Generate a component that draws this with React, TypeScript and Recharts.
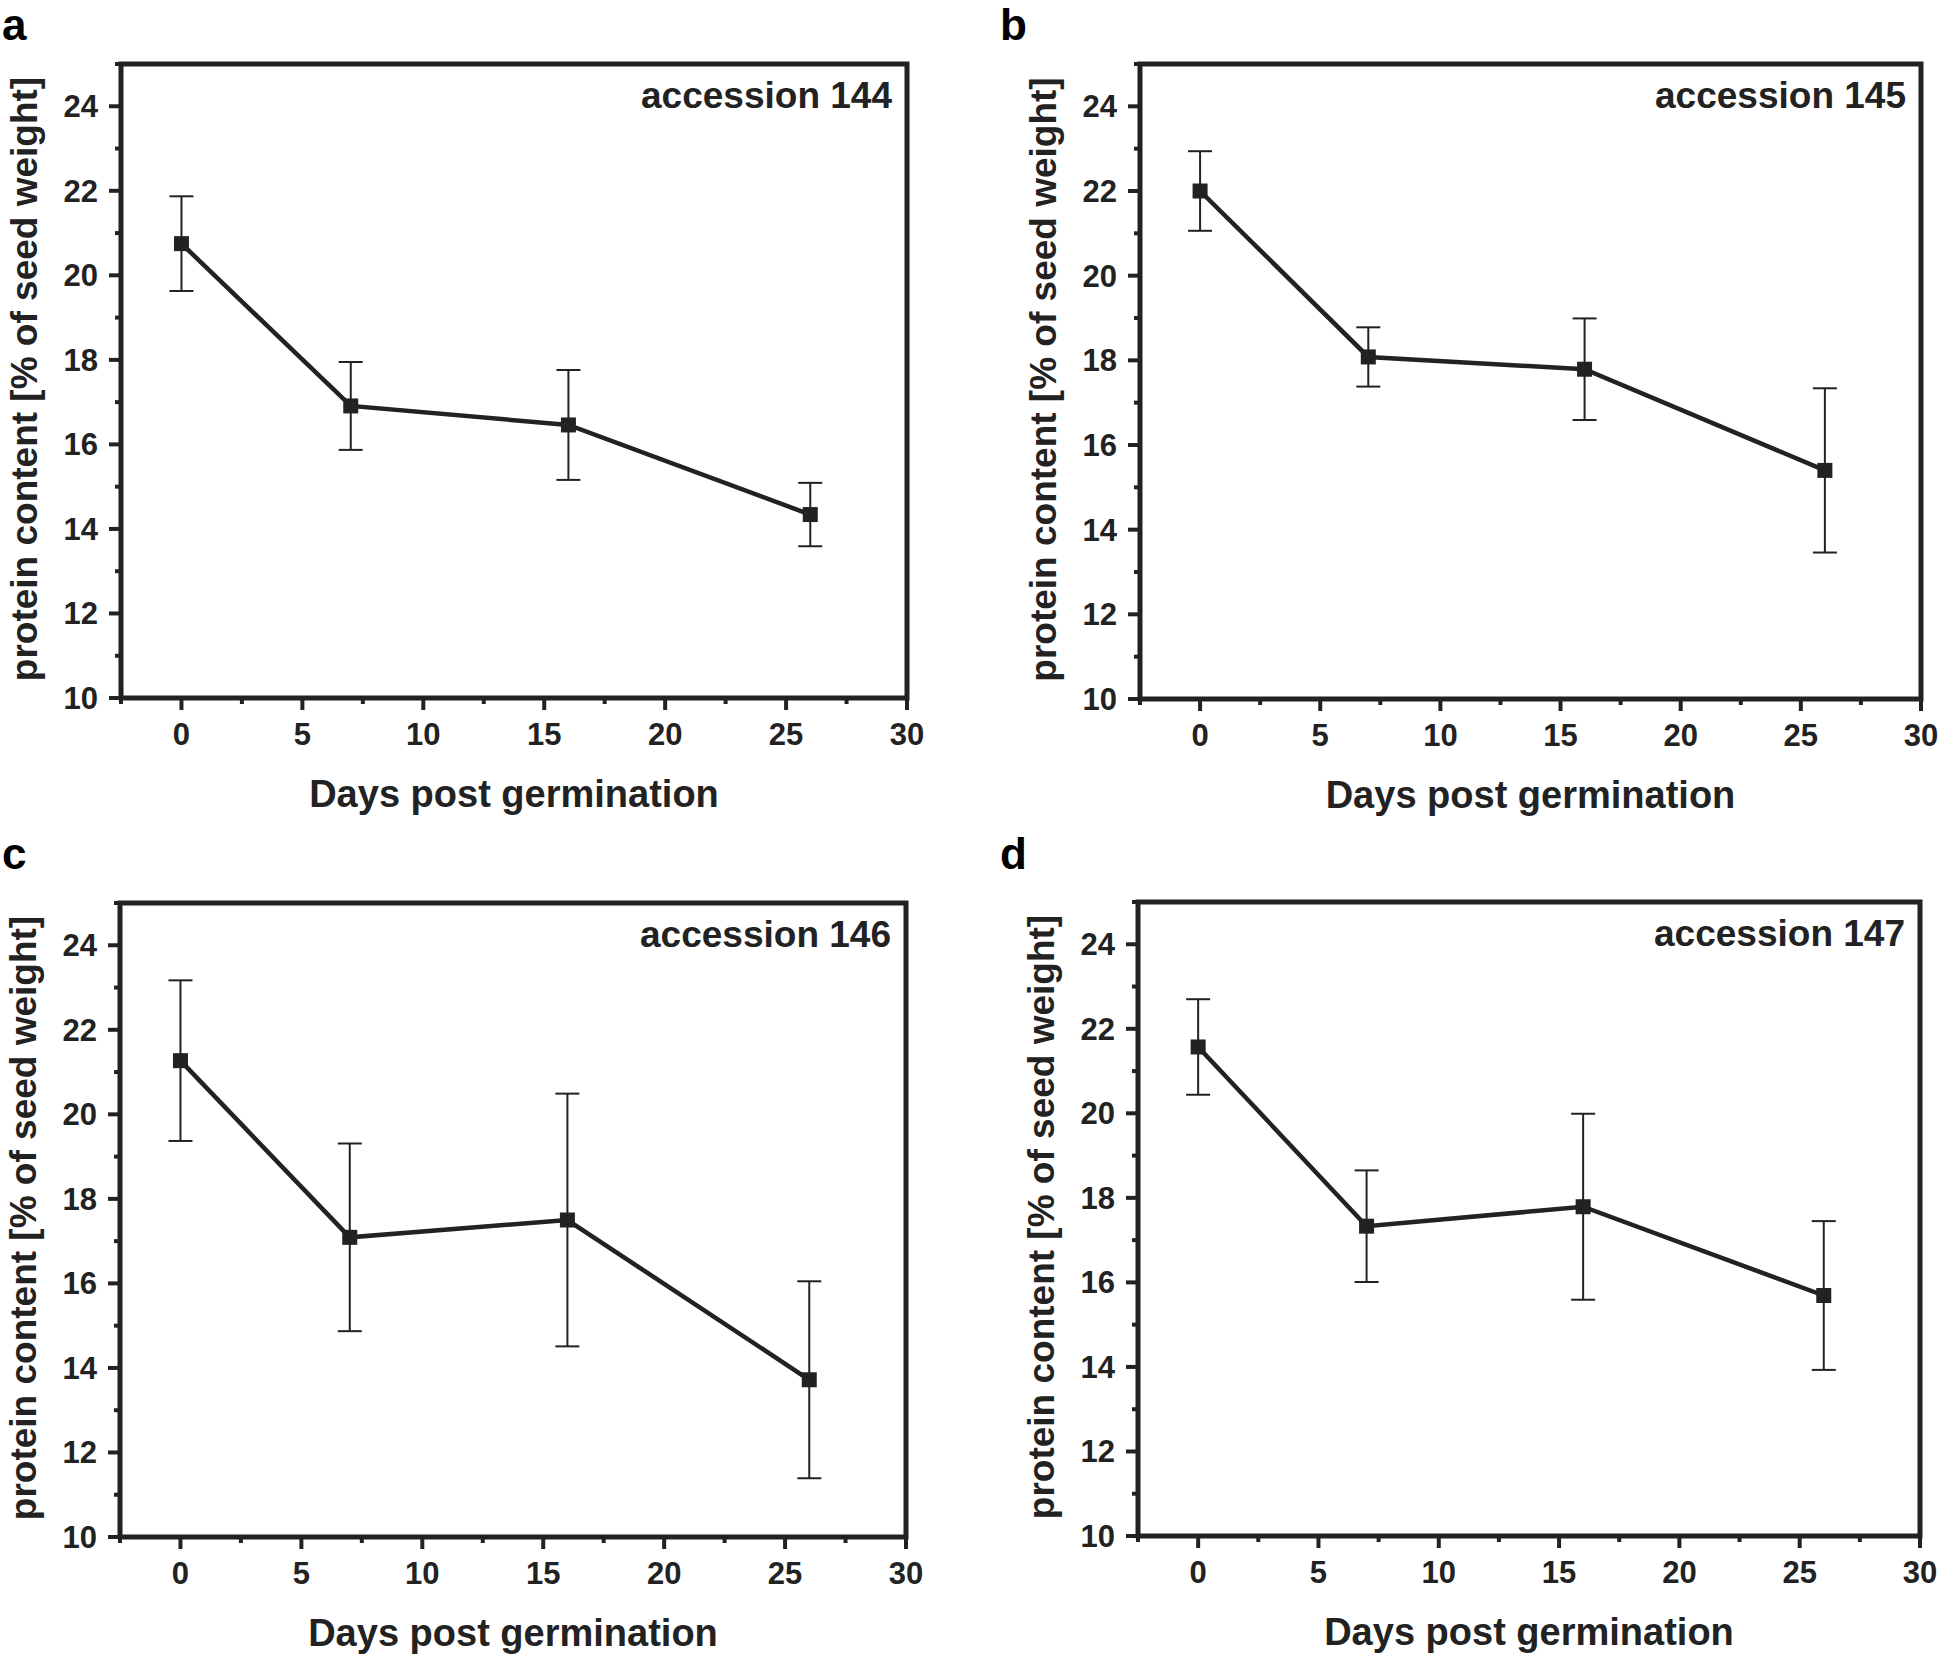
import React from 'react';
import { LineChart, Line, XAxis, YAxis, ErrorBar, ReferenceArea, Customized } from 'recharts';

// days post germination (same for every accession)
const days = [0, 7, 16, 26];

// protein content [% of seed weight] and its error, per accession
const protein144 = [20.75, 16.91, 16.46, 14.34];
const error144 = [1.12, 1.04, 1.3, 0.75];
const protein145 = [22.0, 18.08, 17.79, 15.4];
const error145 = [0.94, 0.7, 1.2, 1.94];
const protein146 = [21.27, 17.09, 17.5, 13.72];
const error146 = [1.9, 2.22, 2.99, 2.33];
const protein147 = [21.57, 17.33, 17.79, 15.69];
const error147 = [1.13, 1.32, 2.2, 1.76];

// axis ticks (majors get a label, the rest are minor ticks)
const xTicks = [-2.5, 0, 2.5, 5, 7.5, 10, 12.5, 15, 17.5, 20, 22.5, 25, 27.5, 30];
const xLabels = [0, 5, 10, 15, 20, 25, 30];
const yTicks = [10, 11, 12, 13, 14, 15, 16, 17, 18, 19, 20, 21, 22, 23, 24, 25];
const yLabels = [10, 12, 14, 16, 18, 20, 22, 24];

const INK = '#222';
const FONT = '"Liberation Sans", Arial, Helvetica, sans-serif';

const XTick = (props: any) => {
    const { x, y, payload } = props;
    const major = xLabels.includes(payload.value);
    return (
        <g>
            <line x1={x} y1={y} x2={x} y2={y + (major ? 12 : 6)} stroke={INK} strokeWidth={4} />
            {major && (
                <text x={x} y={y + 47} textAnchor="middle" fill={INK} fontSize={31} fontWeight="bold" fontFamily={FONT}>
                    {payload.value}
                </text>
            )}
        </g>
    );
};

const YTick = (props: any) => {
    const { x, y, payload } = props;
    const major = yLabels.includes(payload.value);
    return (
        <g>
            <line x1={x - (major ? 12 : 6)} y1={y} x2={x} y2={y} stroke={INK} strokeWidth={4} />
            {major && (
                <text x={x - 23} y={y + 11} textAnchor="end" fill={INK} fontSize={31} fontWeight="bold" fontFamily={FONT}>
                    {payload.value}
                </text>
            )}
        </g>
    );
};

const SquareDot = (p: any) => (
    <rect key={`dot-${p.index}`} x={p.cx - 7.5} y={p.cy - 7.5} width={15} height={15} fill={INK} />
);

interface PanelProps {
    letter: string;
    accession: string;
    values: number[];
    errors: number[];
    box: { left: number; top: number; width: number; height: number };
    plot: { left: number; top: number; right: number; bottom: number };
    letterPos: { x: number; y: number };
}

function Panel({ letter, accession, values, errors, box, plot, letterPos }: PanelProps) {
    const data = days.map((d, i) => ({ day: d, value: values[i], err: errors[i] }));
    const midX = (plot.left + plot.right) / 2;
    const midY = (plot.top + plot.bottom) / 2 - 2;
    const yTitleX = plot.left - 84;

    return (
        <div style={{ position: 'absolute', left: box.left, top: box.top }}>
            <LineChart
                width={box.width}
                height={box.height}
                data={data}
                margin={{ top: plot.top, right: box.width - plot.right, bottom: 0, left: 0 }}
            >
                <XAxis
                    type="number"
                    dataKey="day"
                    domain={[-2.5, 30]}
                    ticks={xTicks}
                    interval={0}
                    allowDataOverflow
                    axisLine={false}
                    tickLine={false}
                    tickSize={0}
                    tickMargin={0}
                    height={box.height - plot.bottom}
                    tick={<XTick />}
                />
                <YAxis
                    type="number"
                    domain={[10, 25]}
                    ticks={yTicks}
                    interval={0}
                    allowDataOverflow
                    axisLine={false}
                    tickLine={false}
                    tickSize={0}
                    tickMargin={0}
                    width={plot.left}
                    tick={<YTick />}
                />
                <ReferenceArea
                    x1={-2.5}
                    x2={30}
                    y1={10}
                    y2={25}
                    fill="none"
                    fillOpacity={0}
                    stroke={INK}
                    strokeWidth={5}
                    ifOverflow="visible"
                />
                <Line
                    type="linear"
                    dataKey="value"
                    stroke={INK}
                    strokeWidth={4.5}
                    dot={SquareDot}
                    activeDot={false}
                    isAnimationActive={false}
                >
                    <ErrorBar dataKey="err" direction="y" width={12} strokeWidth={2} stroke={INK} />
                </Line>
                <Customized
                    component={() => (
                        <g fontFamily={FONT} fontWeight="bold">
                            <text x={letterPos.x} y={letterPos.y} fontSize={44} fill="#000">
                                {letter}
                            </text>
                            <text x={plot.right - 15} y={plot.top + 44} textAnchor="end" fontSize={37} fill={INK}>
                                {accession}
                            </text>
                            <text x={midX} y={plot.bottom + 109} textAnchor="middle" fontSize={38} fill={INK}>
                                Days post germination
                            </text>
                            <text
                                x={yTitleX}
                                y={midY}
                                textAnchor="middle"
                                fontSize={37}
                                fill={INK}
                                transform={`rotate(-90 ${yTitleX} ${midY})`}
                            >
                                protein content [% of seed weight]
                            </text>
                        </g>
                    )}
                />
            </LineChart>
        </div>
    );
}

export default function App() {
    return (
        <div style={{ position: 'absolute', left: 0, top: 0, width: 1946, height: 1655, background: '#fff', overflow: 'hidden' }}>
            <Panel
                letter="a"
                accession="accession 144"
                values={protein144}
                errors={error144}
                box={{ left: 0, top: 0, width: 960, height: 830 }}
                plot={{ left: 121, top: 64, right: 907, bottom: 698 }}
                letterPos={{ x: 2, y: 40 }}
            />
            <Panel
                letter="b"
                accession="accession 145"
                values={protein145}
                errors={error145}
                box={{ left: 975, top: 0, width: 971, height: 830 }}
                plot={{ left: 165, top: 64, right: 946, bottom: 699 }}
                letterPos={{ x: 25, y: 40 }}
            />
            <Panel
                letter="c"
                accession="accession 146"
                values={protein146}
                errors={error146}
                box={{ left: 0, top: 800, width: 960, height: 855 }}
                plot={{ left: 120, top: 103, right: 906, bottom: 737 }}
                letterPos={{ x: 2, y: 69 }}
            />
            <Panel
                letter="d"
                accession="accession 147"
                values={protein147}
                errors={error147}
                box={{ left: 975, top: 800, width: 971, height: 855 }}
                plot={{ left: 163, top: 102, right: 945, bottom: 736 }}
                letterPos={{ x: 25, y: 69 }}
            />
        </div>
    );
}
